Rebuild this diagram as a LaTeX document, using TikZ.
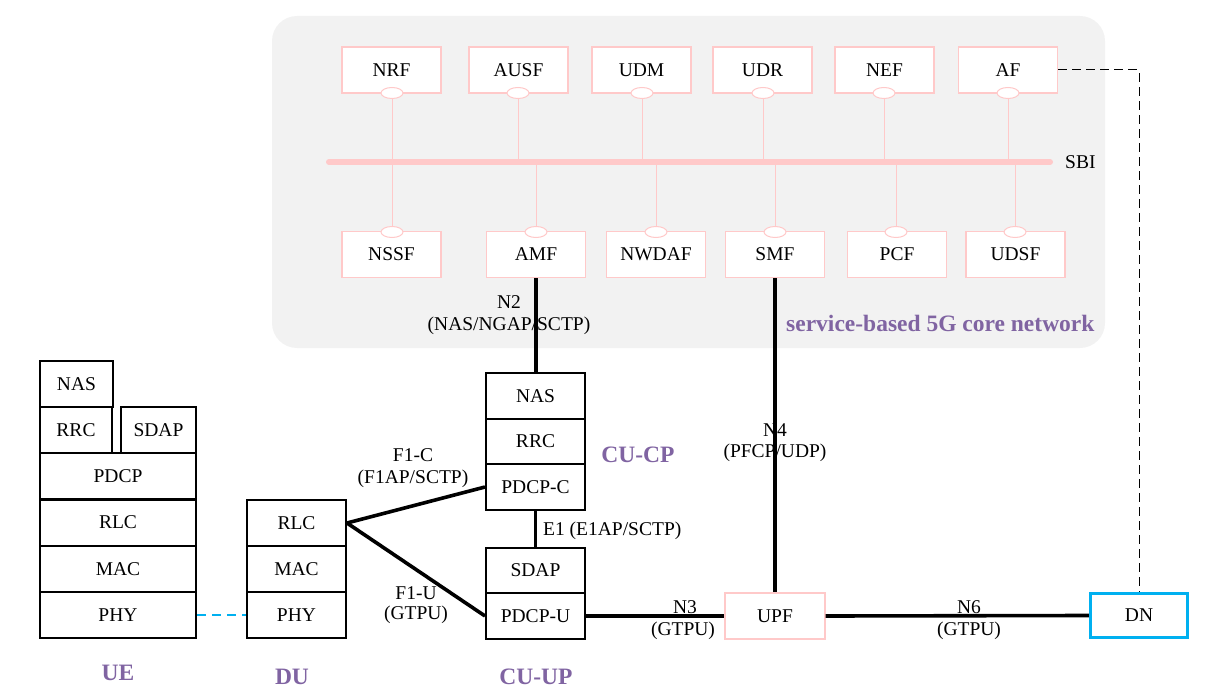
\documentclass[tikz,border=0pt]{standalone}
\usepackage{fontspec}
\setmainfont{Liberation Serif}
\usetikzlibrary{shapes.geometric}
\definecolor{pinkc}{HTML}{FFC9C9}
\definecolor{purplec}{HTML}{8064A2}
\definecolor{cyanc}{HTML}{00B0F0}
\definecolor{bgc}{HTML}{F2F2F2}
\begin{document}
\begin{tikzpicture}[x=1pt,y=-1pt,
  every node/.style={font=\fontsize{19.5}{22}\selectfont},
  nf/.style={draw=pinkc, line width=1.4pt, fill=white, minimum width=99pt, minimum height=46pt, inner sep=0pt},
  lay/.style={draw=black, line width=2pt, fill=white, minimum width=99pt, minimum height=46pt, inner sep=0pt},
  port/.style={ellipse, draw=pinkc, fill=white, line width=1pt, minimum width=22pt, minimum height=11pt, inner sep=0pt},
  bus/.style={pinkc, line width=1pt},
  link/.style={black, line width=3.6pt},
  lbl/.style={font=\fontsize{23.5}{27}\selectfont\bfseries, text=purplec},
  txt/.style={inner sep=0pt}]
\useasboundingbox (0,0) rectangle (1205,690);
% core network background
\fill[bgc, rounded corners=25pt] (272,16) rectangle (1105,348);
% top NFs
\node[nf] (nrf)  at (391.5,70) {NRF};
\node[nf] (ausf) at (518.5,70) {AUSF};
\node[nf] (udm)  at (641.5,70) {UDM};
\node[nf] (udr)  at (762.5,70) {UDR};
\node[nf] (nef)  at (884.5,70) {NEF};
\node[nf] (af)   at (1008,70) {AF};
% bottom NFs
\node[nf] (nssf)  at (391.5,254.5) {NSSF};
\node[nf] (amf)   at (536,254.5) {AMF};
\node[nf] (nwdaf) at (656,254.5) {NWDAF};
\node[nf] (smf)   at (775,254.5) {SMF};
\node[nf] (pcf)   at (897,254.5) {PCF};
\node[nf] (udsf)  at (1015.5,254.5) {UDSF};
% SBI bus
\coordinate (sbiL) at (329,162);
\coordinate (sbiR) at (1050,162);
\node[txt, anchor=west] (sbi) at (1065,162) {SBI};
% ports
\node[port] (pnrf)  at (392,93) {};
\node[port] (pausf) at (518,93) {};
\node[port] (pudm)  at (642,93) {};
\node[port] (pudr)  at (763,93) {};
\node[port] (pnef)  at (884,93) {};
\node[port] (paf)   at (1008,93) {};
\node[port] (pnssf)  at (392,232) {};
\node[port] (pamf)   at (536,232) {};
\node[port] (pnwdaf) at (656,232) {};
\node[port] (psmf)   at (775,232) {};
\node[port] (ppcf)   at (896,232) {};
\node[port] (pudsf)  at (1015,232) {};
\foreach \p in {pnrf,pausf,pudm,pudr,pnef,paf}{
  \draw[bus] (\p.south) -- (\p.south |- sbiL);
}
\foreach \p in {pnssf,pamf,pnwdaf,psmf,ppcf,pudsf}{
  \draw[bus] (\p.north) -- (\p.north |- sbiL);
}
\draw[pinkc, line width=6pt, line cap=round] (sbiL) -- (sbiR);
\node[lbl, anchor=east] (cnlbl) at (1098,323) {service-based 5G core network};
% UE stack
\node[lay, minimum width=73pt] (uenas) at (76.5,384) {NAS};
\node[lay, minimum width=72pt] (uerrc) at (76,430) {RRC};
\node[lay, minimum width=75pt] (uesdap) at (158.5,430) {SDAP};
\node[lay, minimum width=156pt] (uepdcp) at (118,476) {PDCP};
\node[lay, minimum width=156pt] (uerlc) at (118,522.5) {RLC};
\node[lay, minimum width=156pt] (uemac) at (118,569) {MAC};
\node[lay, minimum width=156pt] (uephy) at (118,615) {PHY};
\node[lbl] (ue) at (118,673) {UE};
% DU stack
\node[lay] (durlc) at (296.5,523) {RLC};
\node[lay] (dumac) at (296.5,569) {MAC};
\node[lay] (duphy) at (296.5,615) {PHY};
\node[lbl] (du) at (292,677) {DU};
% CU-CP
\node[lay] (cunas) at (535.5,396) {NAS};
\node[lay] (curc) at (535.5,441.5) {RRC};
\node[lay] (pdcpc) at (535.5,487) {PDCP-C};
\node[lbl] (cucp) at (638,455) {CU-CP};
% CU-UP
\node[lay] (sdap) at (535.5,570.5) {SDAP};
\node[lay] (pdcpu) at (535.5,616) {PDCP-U};
\node[lbl] (cuup) at (536,677) {CU-UP};
% UPF, DN
\node[nf, minimum width=100pt] (upf) at (775,616) {UPF};
\node[draw=cyanc, line width=3.2pt, fill=white, minimum width=97pt, minimum height=44pt, inner sep=0pt] (dn) at (1139,615.5) {DN};
% interface labels
\node[txt] (n2a) at (509,302) {N2};
\node[txt] (n2b) at (509,326) {(NAS/NGAP/SCTP)};
\node[txt] (f1ca) at (413,455) {F1-C};
\node[txt] (f1cb) at (413,479) {(F1AP/SCTP)};
\node[txt] (f1ua) at (416,593) {F1-U};
\node[txt] (f1ub) at (416,615) {(GTPU)};
\node[txt, anchor=west] (e1) at (543,531) {E1 (E1AP/SCTP)};
\node[txt] (n3a) at (685,607) {N3};
\node[txt] (n3b) at (683,631) {(GTPU)};
\node[txt] (n4a) at (775,430) {N4};
\node[txt] (n4b) at (775,453) {(PFCP/UDP)};
\node[txt] (n6a) at (969,607) {N6};
\node[txt] (n6b) at (969,631) {(GTPU)};
% connectors
\draw[link] (amf.south) -- (amf.south |- cunas.north);
\draw[link] (pdcpc.south) -- (sdap.north);
\draw[link] (durlc.east) -- (pdcpc.west);
\draw[link] (durlc.east) -- (pdcpu.west);
\draw[link] (pdcpu.east) -- (upf.west);
\draw[link] (smf.south) -- (upf.north);
\draw[link] (upf.east) -- (dn.west);
\draw[cyanc, line width=1.6pt, dash pattern=on 9pt off 6pt] (uephy.east) -- (duphy.west);
\draw[black, line width=1pt, dash pattern=on 9pt off 5pt] (af.east) -| (dn.north);
\end{tikzpicture}
\end{document}
